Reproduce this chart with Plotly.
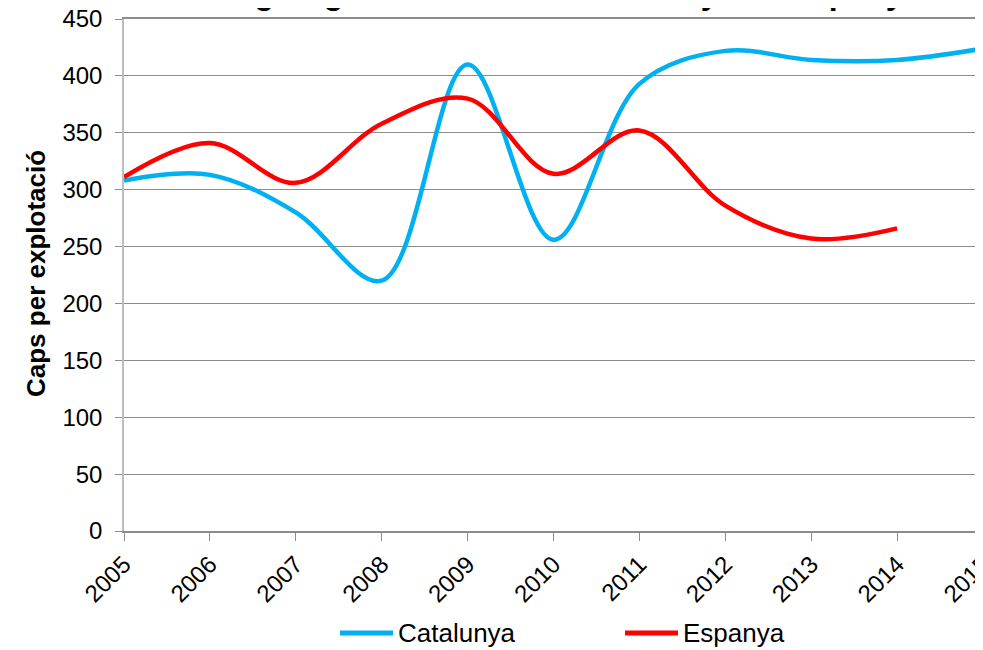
import plotly.graph_objects as go

years = [2005, 2006, 2007, 2008, 2009, 2010, 2011, 2012, 2013, 2014, 2015]
catalunya = [308, 313, 280, 220, 410, 256, 393, 422, 414, 414, 424]
espanya = [311, 341, 306, 358, 380, 314, 352, 286, 257, 266]
y_ticks = [0, 50, 100, 150, 200, 250, 300, 350, 400, 450]
series_names = ["Catalunya", "Espanya"]
series_colors = ["#00B0F0", "#FF0000"]

title_text = "Mida de les granges i del ramat a Catalunya i a Espanya"
y_title = "Caps per explotació"
font_family = "Liberation Sans, Arial, sans-serif"

# the page body has an 8px margin; lay out in screen pixels and compensate
OFF = 8
W, H = 983, 650
ML = 124 - OFF
PW = 983 - 124          # plot width on screen
PH = 512                # plot height on screen
MT = 531 - PH - OFF
MR = W - ML - PW
MB = H - MT - PH


def px_x(p):
    return (p - OFF - ML) / PW


def px_y(p):
    return (MT + PH - (p - OFF)) / PH


fig = go.Figure()
fig.add_trace(go.Scatter(x=years, y=catalunya, name=series_names[0], mode="lines",
                         line=dict(color=series_colors[0], width=4.5, shape="spline", smoothing=1.0),
                         showlegend=False))
fig.add_trace(go.Scatter(x=years[:len(espanya)], y=espanya, name=series_names[1], mode="lines",
                         line=dict(color=series_colors[1], width=4.5, shape="spline", smoothing=1.0),
                         showlegend=False))

# manual legend (bottom)
legend_starts = [340, 625]
shapes = []
annotations = []
for name, col, x0 in zip(series_names, series_colors, legend_starts):
    shapes.append(dict(type="line", xref="paper", yref="paper",
                       x0=px_x(x0), x1=px_x(x0 + 53), y0=px_y(633), y1=px_y(633),
                       line=dict(color=col, width=5)))
    annotations.append(dict(text=name, xref="paper", yref="paper", x=px_x(x0 + 56), y=px_y(633),
                            xanchor="left", yanchor="middle", showarrow=False,
                            font=dict(size=26, color="black")))

# title (cut off at the top, as in the original)
annotations.append(dict(text="<b>" + title_text + "</b>", xref="paper", yref="paper",
                        x=px_x(497), y=px_y(13), xanchor="center", yanchor="bottom",
                        showarrow=False, font=dict(size=32, color="black")))
# y-axis title
annotations.append(dict(text="<b>" + y_title + "</b>", xref="paper", yref="paper",
                        x=px_x(36), y=px_y(274), xanchor="center", yanchor="middle",
                        textangle=-90, showarrow=False, font=dict(size=26, color="black")))

fig.update_layout(
    width=W, height=H,
    margin=dict(l=ML, r=MR, t=MT, b=MB, autoexpand=False),
    paper_bgcolor="white", plot_bgcolor="white",
    font=dict(family=font_family, size=24, color="black"),
    showlegend=False,
    xaxis=dict(range=[2005, 2015], tickmode="array", tickvals=years,
               ticktext=[str(y) for y in years], tickangle=-45,
               ticks="outside", ticklen=8, tickcolor="#8C8C8C", tickwidth=1.2,
               showline=True, mirror=True, linecolor="#8C8C8C", linewidth=1.5,
               showgrid=False, zeroline=False, tickfont=dict(size=24),
               automargin=False, ticklabeloverflow="allow"),
    yaxis=dict(range=[0, 450], tickmode="array", tickvals=y_ticks,
               ticks="outside", ticklen=7,
               tickcolor="#8C8C8C", tickwidth=1.2, showline=True, linecolor="#BEBEBE", linewidth=1.5,
               showgrid=True, gridcolor="#8C8C8C", gridwidth=1.2, zeroline=False,
               tickfont=dict(size=24), ticklabelstandoff=8, automargin=False,
               ticklabeloverflow="allow"),
    shapes=shapes,
    annotations=annotations,
)

fig.write_html("out.html")
